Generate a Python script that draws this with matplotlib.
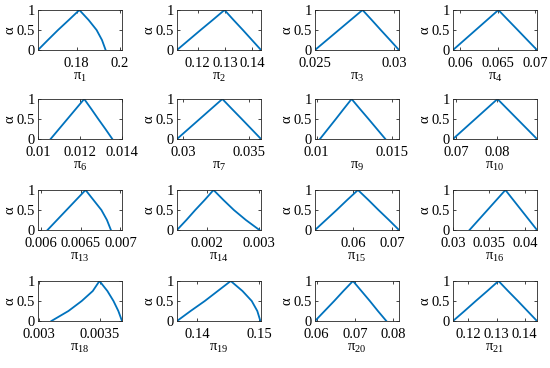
import numpy as np
import matplotlib.pyplot as plt
from matplotlib.ticker import FuncFormatter

plt.rcParams['font.family'] = ['Liberation Serif', 'DejaVu Serif']
plt.rcParams['font.size'] = 10.5
plt.rcParams['mathtext.fontset'] = 'custom'
plt.rcParams['mathtext.rm'] = 'Liberation Serif'

# alpha levels along each membership curve (up the left side, down the right side)
alpha = [0, 0.25, 0.5, 0.75, 1, 0.75, 0.5, 0.25, 0]

names = [1, 2, 3, 4, 6, 7, 9, 10, 13, 14, 15, 16, 18, 19, 20, 21]

pi_1 = [0.162, 0.1666, 0.1713, 0.1763, 0.1812, 0.1855, 0.1892, 0.1917, 0.1934]
pi_2 = [0.1125, 0.1168, 0.1211, 0.1255, 0.1298, 0.1331, 0.1365, 0.1398, 0.1431]
pi_3 = [0.025, 0.02575, 0.0265, 0.02725, 0.0280, 0.02858, 0.02915, 0.02973, 0.0303]
pi_4 = [0.0591, 0.0606, 0.0621, 0.0636, 0.0651, 0.06637, 0.06765, 0.06892, 0.0702]
pi_6 = [0.0106, 0.0110, 0.0114, 0.0118, 0.0122, 0.01254, 0.01287, 0.01321, 0.01354]
pi_7 = [0.02953, 0.03039, 0.03125, 0.03211, 0.03297, 0.0337, 0.03444, 0.03517, 0.0359]
pi_9 = [0.01023, 0.01076, 0.01129, 0.01181, 0.01234, 0.0129, 0.01347, 0.01403, 0.01459]
pi_10 = [0.0692, 0.0719, 0.0746, 0.0773, 0.0800, 0.0824, 0.0848, 0.0872, 0.0896]
pi_13 = [0.00608, 0.0062, 0.00632, 0.00644, 0.00656, 0.00666, 0.00676, 0.00683, 0.00688]
pi_14 = [0.00142, 0.0016, 0.00177, 0.00195, 0.00212, 0.00231, 0.00251, 0.00274, 0.003]
pi_15 = [0.0501, 0.0529, 0.0557, 0.0584, 0.0612, 0.0639, 0.0665, 0.0692, 0.0718]
pi_16 = [0.0323, 0.03355, 0.0348, 0.03605, 0.0373, 0.0384, 0.0395, 0.0406, 0.0417]
pi_18 = [0.0031, 0.00324, 0.003349, 0.00344, 0.003495, 0.00356, 0.00361, 0.00365, 0.00368]
pi_19 = [0.1367, 0.1389, 0.1412, 0.1433, 0.1454, 0.1473, 0.1488, 0.1497, 0.1502]
pi_20 = [0.0596, 0.0621, 0.0646, 0.067, 0.0695, 0.0717, 0.0739, 0.076, 0.0782]
pi_21 = [0.1145, 0.1186, 0.1226, 0.1267, 0.1307, 0.1341, 0.1376, 0.141, 0.1444]

curves = [pi_1, pi_2, pi_3, pi_4, pi_6, pi_7, pi_9, pi_10,
          pi_13, pi_14, pi_15, pi_16, pi_18, pi_19, pi_20, pi_21]

xlims = [(0.162, 0.201), (0.1125, 0.1431), (0.025, 0.0303), (0.0591, 0.0702),
         (0.01, 0.014), (0.02953, 0.0359), (0.0099, 0.0155), (0.0692, 0.0896),
         (0.00596, 0.00702), (0.00142, 0.00303), (0.0501, 0.0718), (0.03, 0.0417),
         (0.00299, 0.00368), (0.1367, 0.1503), (0.0596, 0.0815), (0.1145, 0.1444)]

xticks = [[0.18, 0.2], [0.12, 0.13, 0.14], [0.025, 0.03], [0.06, 0.065, 0.07],
          [0.01, 0.012, 0.014], [0.03, 0.035], [0.01, 0.015], [0.07, 0.08],
          [0.006, 0.0065, 0.007], [0.002, 0.003], [0.06, 0.07], [0.03, 0.035, 0.04],
          [0.003, 0.0035], [0.14, 0.15], [0.06, 0.07, 0.08], [0.12, 0.13, 0.14]]

W, H = 550, 368
fig = plt.figure(figsize=(W / 100, H / 100), dpi=100)

lefts = [38, 177, 315, 453]
tops = [10, 99, 190, 281]
aw, ah = 84, 40

for i in range(16):
    r, c = divmod(i, 4)
    ax = fig.add_axes([lefts[c] / W, 1 - (tops[r] + ah) / H, aw / W, ah / H])
    ax.plot(curves[i], alpha, color='#0072BD', lw=1.3)
    ax.set_xlim(xlims[i])
    ax.set_ylim(0, 1)
    ax.set_xticks(xticks[i])
    ax.xaxis.set_major_formatter(FuncFormatter(lambda v, p: '%g' % round(v, 6)))
    ax.set_yticks([0, 0.5, 1])
    ax.set_yticklabels(['0', '0.5', '1'])
    ax.tick_params(direction='in', length=2, width=0.6, colors='#262626',
                   labelcolor='black', top=True, right=True)
    ax.tick_params(axis='x', pad=5)
    ax.tick_params(axis='y', pad=2)
    for s in ax.spines.values():
        s.set_color('#262626')
        s.set_linewidth(0.6)
    ax.set_ylabel('α', labelpad=0)
    ax.set_xlabel(r'$\mathregular{\pi_{%d}}$' % names[i], labelpad=1)

fig.savefig('out.png', dpi=100)
